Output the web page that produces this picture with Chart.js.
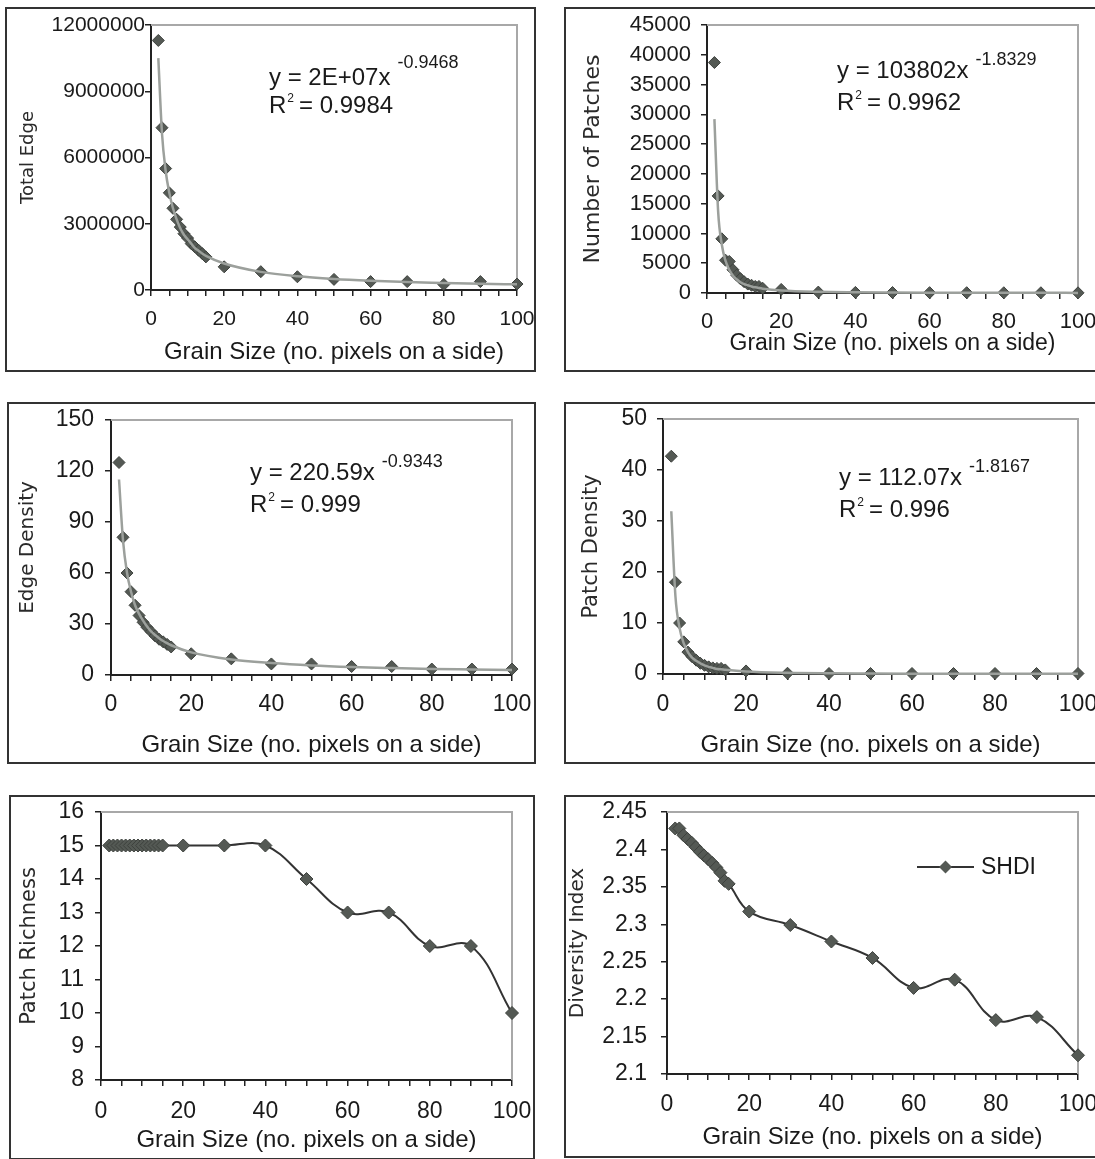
<!DOCTYPE html>
<html>
<head>
<meta charset="utf-8">
<script src="https://cdn.jsdelivr.net/npm/chart.js@4.4.1/dist/chart.umd.min.js"></script>
<style>
  html, body { margin: 0; padding: 0; background: #fff; width: 1095px; height: 1159px; overflow: hidden; position: relative; }
  .panel { position: absolute; }
  .panel canvas { position: absolute; left: 0; top: 0; }
  .frame { position: absolute; border: 2.5px solid #333; box-sizing: border-box; pointer-events: none; }
</style>
</head>
<body>
<script>
// grain sizes (pixels on a side) shared by all six plots
const grainSize = [2, 3, 4, 5, 6, 7, 8, 9, 10, 11, 12, 13, 14, 15, 20, 30, 40, 50, 60, 70, 80, 90, 100];
const xTickLabels = [0, 20, 40, 60, 80, 100];

const totalEdge    = [11300000, 7350000, 5500000, 4400000, 3700000, 3200000, 2850000, 2550000, 2350000, 2100000, 1950000, 1800000, 1650000, 1500000, 1050000, 830000, 600000, 480000, 380000, 380000, 250000, 380000, 270000];
const totalEdgeFit = [10500000, 7100000, 5400000, 4400000, 3700000, 3200000, 2800000, 2500000, 2300000, 2100000, 1900000, 1780000, 1650000, 1550000, 1200000, 820000, 620000, 500000, 420000, 360000, 320000, 280000, 260000];

const numPatches    = [38700, 16300, 9100, 5500, 5300, 3900, 3000, 2400, 1900, 1500, 1300, 1100, 1100, 800, 600, 150, 100, 80, 60, 50, 40, 40, 30];
const numPatchesFit = [29200, 13700, 8100, 5400, 3900, 2900, 2300, 1800, 1500, 1300, 1100, 950, 830, 730, 430, 200, 120, 80, 50, 40, 30, 30, 20];

const edgeDensity    = [125, 81, 60, 49, 41, 35, 31, 28, 25.5, 23, 21, 19.5, 18, 16.5, 12.5, 9.5, 6.5, 6.5, 5, 5, 3.5, 3.5, 3.5];
const edgeDensityFit = [115, 79, 60, 49, 41, 36, 32, 28.5, 25.6, 23.5, 21.6, 20, 18.7, 17.5, 13.3, 9.1, 7, 5.6, 4.7, 4.1, 3.6, 3.3, 3];

const patchDensity    = [42.7, 18, 10, 6.3, 4.3, 3.4, 2.7, 2.1, 1.7, 1.4, 1.2, 1.1, 1.1, 0.8, 0.6, 0.15, 0.1, 0.1, 0.1, 0.1, 0.1, 0.1, 0.1];
const patchDensityFit = [31.9, 15.2, 9, 6, 4.3, 3.2, 2.6, 2.1, 1.7, 1.4, 1.2, 1, 0.93, 0.83, 0.49, 0.23, 0.13, 0.09, 0.06, 0.05, 0.04, 0.03, 0.03];

const patchRichness = [15, 15, 15, 15, 15, 15, 15, 15, 15, 15, 15, 15, 15, 15, 15, 15, 15, 14, 13, 13, 12, 12, 10];
const shdi = [2.428, 2.428, 2.419, 2.414, 2.409, 2.403, 2.397, 2.392, 2.387, 2.382, 2.376, 2.369, 2.358, 2.354, 2.317, 2.299, 2.277, 2.255, 2.215, 2.226, 2.172, 2.176, 2.125];

const FONT = "'Liberation Sans', Arial, sans-serif";
const TITLE_FONT = "'DejaVu Sans', sans-serif";
const INK = '#1a1a1a';

const toPoints = arr => grainSize.map((g, i) => ({ x: g, y: arr[i] }));

// box = panel frame, area = plot area, all in page pixels
const panels = [
  { box: [5, 7, 536, 372], area: [151, 25, 517, 290], yTitle: 'Total Edge', yTitleSize: 18, yTitleX: 28,
    yMin: 0, yMax: 12000000, yStep: 3000000, tickSize: 21, xTitleSize: 24, yTickPad: 0, xTickY: 319, xTitleY: 352,
    values: totalEdge, fit: totalEdgeFit,
    eq: { main: 'y = 2E+07x', sup: '-0.9468', r2: '0.9984', x: 269, y: 85, supY: 68, rY: 113 } },
  { box: [564, 7, 1100, 372], area: [707, 25, 1078, 293], yTitle: 'Number of Patches', yTitleSize: 22, yTitleX: 593,
    yMin: 0, yMax: 45000, yStep: 5000, tickSize: 22, xTitleSize: 23, yTickPad: 10, xTickY: 322, xTitleY: 344,
    values: numPatches, fit: numPatchesFit,
    eq: { main: 'y = 103802x', sup: '-1.8329', r2: '0.9962', x: 837, y: 78, supY: 65, rY: 110 } },
  { box: [7, 402, 536, 764], area: [111, 420, 512, 675], yTitle: 'Edge Density', yTitleSize: 20, yTitleX: 28,
    yMin: 0, yMax: 150, yStep: 30, tickSize: 23, xTitleSize: 24, yTickPad: 11, xTickY: 705, xTitleY: 745,
    values: edgeDensity, fit: edgeDensityFit,
    eq: { main: 'y = 220.59x', sup: '-0.9343', r2: '0.999', x: 250, y: 480, supY: 467, rY: 512 } },
  { box: [564, 402, 1100, 764], area: [663, 419, 1078, 674], yTitle: 'Patch Density', yTitleSize: 21, yTitleX: 592,
    yMin: 0, yMax: 50, yStep: 10, tickSize: 23, xTitleSize: 24, yTickPad: 10, xTickY: 705, xTitleY: 745,
    values: patchDensity, fit: patchDensityFit,
    eq: { main: 'y = 112.07x', sup: '-1.8167', r2: '0.996', x: 839, y: 485, supY: 472, rY: 517 } },
  { box: [9, 795, 535, 1160], area: [101, 812, 512, 1080], yTitle: 'Patch Richness', yTitleSize: 21, yTitleX: 30,
    yMin: 8, yMax: 16, yStep: 1, tickSize: 23, xTitleSize: 24, yTickPad: 11, xTickY: 1112, xTitleY: 1140,
    values: patchRichness, line: true },
  { box: [564, 795, 1100, 1158], area: [667, 812, 1078, 1074], yTitle: 'Diversity Index', yTitleSize: 20, yTitleX: 578,
    yMin: 2.1, yMax: 2.45, yStep: 0.05, tickSize: 23, xTitleSize: 24, yTickPad: 14, xTickY: 1105, xTitleY: 1137,
    values: shdi, line: true, legend: { label: 'SHDI', x1: 917, x2: 974, y: 867, textX: 981 } }
];

function buildPanel(cfg) {
  const [bl, bt, br, bb] = cfg.box;
  const [al, at, ar, ab] = cfg.area;
  const w = br - bl, h = bb - bt;

  const wrap = document.createElement('div');
  wrap.className = 'panel';
  Object.assign(wrap.style, { left: bl + 'px', top: bt + 'px', width: w + 'px', height: h + 'px' });
  const canvas = document.createElement('canvas');
  canvas.width = w; canvas.height = h;
  canvas.style.width = w + 'px'; canvas.style.height = h + 'px';
  wrap.appendChild(canvas);
  const frame = document.createElement('div');
  frame.className = 'frame';
  Object.assign(frame.style, { left: '0px', top: '0px', width: w + 'px', height: h + 'px' });
  wrap.appendChild(frame);
  document.body.appendChild(wrap);

  const tickLen = 6;

  const datasets = [];
  if (cfg.fit) {
    datasets.push({
      data: toPoints(cfg.fit), order: 0, borderColor: '#9ca09c', borderWidth: 2.5,
      pointRadius: 0, cubicInterpolationMode: 'monotone', clip: false
    });
  }
  datasets.push({
    data: toPoints(cfg.values), order: 1,
    showLine: !!cfg.line, borderColor: '#333', borderWidth: 2, tension: 0.4,
    pointStyle: 'rectRot', pointRadius: cfg.line ? 6.5 : 6,
    pointBackgroundColor: '#545954', pointBorderColor: '#3e423e', pointBorderWidth: 1, clip: false
  });

  // grey top/right edges of the plot area, like the Excel plot frame
  const plotFrame = {
    id: 'plotFrame',
    beforeDatasetsDraw(chart) {
      const { ctx, chartArea: a } = chart;
      ctx.save();
      ctx.strokeStyle = '#a8a8a8';
      ctx.lineWidth = 2;
      ctx.beginPath();
      ctx.moveTo(a.left, a.top);
      ctx.lineTo(a.right, a.top);
      ctx.lineTo(a.right, a.bottom);
      ctx.stroke();
      ctx.restore();
    }
  };

  // power-law trendline equation
  const eqnLabel = {
    id: 'eqnLabel',
    afterDraw(chart) {
      const e = cfg.eq;
      if (!e) return;
      const ctx = chart.ctx;
      const x = e.x - bl;
      ctx.save();
      ctx.fillStyle = INK;
      ctx.textBaseline = 'alphabetic';
      ctx.font = `24px ${FONT}`;
      ctx.fillText(e.main, x, e.y - bt);
      const mw = ctx.measureText(e.main).width;
      ctx.font = `18px ${FONT}`;
      ctx.fillText(e.sup, x + mw + 7, e.supY - bt);
      ctx.font = `24px ${FONT}`;
      ctx.fillText('R', x, e.rY - bt);
      const rw = ctx.measureText('R').width;
      ctx.font = `12px ${FONT}`;
      ctx.fillText('2', x + rw + 1, e.rY - bt - 11);
      ctx.font = `24px ${FONT}`;
      ctx.fillText(' = ' + e.r2, x + rw + 6, e.rY - bt);
      ctx.restore();
    }
  };

  const seriesKey = {
    id: 'seriesKey',
    afterDraw(chart) {
      const l = cfg.legend;
      if (!l) return;
      const ctx = chart.ctx;
      const y = l.y - bt;
      ctx.save();
      ctx.strokeStyle = '#333';
      ctx.lineWidth = 2;
      ctx.beginPath();
      ctx.moveTo(l.x1 - bl, y);
      ctx.lineTo(l.x2 - bl, y);
      ctx.stroke();
      const cx = (l.x1 + l.x2) / 2 - bl, r = 6.5;
      ctx.fillStyle = '#545954';
      ctx.beginPath();
      ctx.moveTo(cx, y - r); ctx.lineTo(cx + r, y); ctx.lineTo(cx, y + r); ctx.lineTo(cx - r, y);
      ctx.closePath();
      ctx.fill();
      ctx.fillStyle = INK;
      ctx.font = `23px ${FONT}`;
      ctx.textBaseline = 'middle';
      ctx.fillText(l.label, l.textX - bl, y + 1);
      ctx.restore();
    }
  };

  new Chart(canvas, {
    type: 'line',
    data: { datasets },
    options: {
      responsive: false,
      animation: false,
      events: [],
      layout: { padding: { left: 0, top: at - bt, right: br - ar, bottom: 0 } },
      plugins: { legend: { display: false }, tooltip: { enabled: false } },
      scales: {
        x: {
          type: 'linear', min: 0, max: 100,
          // fixed axis band; label overhang is already covered by the layout padding
          afterFit: s => { s.height = bb - ab; s.paddingLeft = 0; s.paddingRight = 0; },
          border: { color: '#222', width: 2 },
          grid: { drawOnChartArea: false, tickLength: tickLen, color: '#222', lineWidth: 1.5 },
          ticks: {
            stepSize: 5, autoSkip: false, maxRotation: 0, color: INK,
            font: { family: FONT, size: cfg.tickSize, lineHeight: 1 },
            padding: cfg.xTickY - ab - tickLen - cfg.tickSize / 2,
            callback: v => xTickLabels.includes(v) ? String(v) : ''
          },
          title: {
            display: true, text: 'Grain Size (no. pixels on a side)', color: INK,
            font: { family: FONT, size: cfg.xTitleSize, lineHeight: 1 },
            padding: { top: 0, bottom: bb - cfg.xTitleY - cfg.xTitleSize / 2 }
          }
        },
        y: {
          min: cfg.yMin, max: cfg.yMax,
          afterFit: s => { s.width = al - bl; s.paddingTop = 0; s.paddingBottom = 0; },
          border: { color: '#222', width: 2 },
          grid: { drawOnChartArea: false, tickLength: tickLen, color: '#222', lineWidth: 1.5 },
          ticks: {
            stepSize: cfg.yStep, autoSkip: false, color: INK,
            font: { family: FONT, size: cfg.tickSize, lineHeight: 1 },
            padding: cfg.yTickPad,
            callback: v => String(Math.round(v * 100) / 100)
          },
          title: {
            display: true, text: cfg.yTitle, color: '#2a2a2a',
            font: { family: TITLE_FONT, size: cfg.yTitleSize, lineHeight: 1 },
            padding: { top: cfg.yTitleX - bl - cfg.yTitleSize / 2, bottom: 0 }
          }
        }
      }
    },
    plugins: [plotFrame, eqnLabel, seriesKey]
  });
}

panels.forEach(buildPanel);
</script>
</body>
</html>
